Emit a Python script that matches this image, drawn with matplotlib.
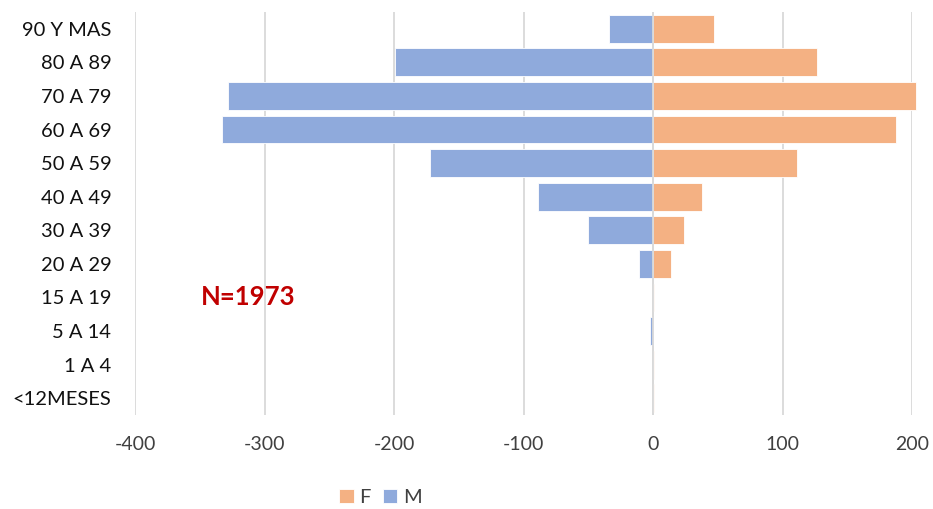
import numpy as np
import matplotlib.pyplot as plt

plt.rcParams['font.family'] = ['Lato', 'DejaVu Sans']

# Age groups, bottom to top
groups = ["<12MESES", "1 A 4", "5 A 14", "15 A 19", "20 A 29", "30 A 39",
          "40 A 49", "50 A 59", "60 A 69", "70 A 79", "80 A 89", "90 Y MAS"]
# Women (positive) and men (negative)
fem = [1, 1, 0, 1, 14, 24, 38, 111, 188, 203, 127, 47]
masc = [0, 0, -2, 0, -11, -50, -89, -172, -333, -328, -199, -34]

col_f = "#F4B183"
col_m = "#8FAADC"

fig = plt.figure(figsize=(9.33, 5.09), dpi=100)
ax = fig.add_axes([0.1447, 0.1847, 0.8328, 0.7917])

y = np.arange(len(groups))
ax.barh(y, fem, height=0.83, color=col_f, edgecolor="white", linewidth=0.6,
        label="F", zorder=3, clip_on=False)
ax.barh(y, masc, height=0.83, color=col_m, edgecolor="white", linewidth=0.6,
        label="M", zorder=3, clip_on=False)

ax.set_xlim(-400, 200)
ax.set_ylim(-0.5, len(groups) - 0.5)
ax.set_xticks(np.arange(-400, 201, 100))
ax.set_xticklabels([str(v) for v in range(-400, 201, 100)], fontsize=14, color="#404040")
ax.set_yticks(y)
ax.set_yticklabels(groups, fontsize=14.5, color="#111111")
ax.tick_params(axis="y", length=0, pad=17)
ax.tick_params(axis="x", length=0, pad=15)

ax.grid(axis="x", color="#D9D9D9", linewidth=1.3, zorder=0)
ax.axvline(0, color="#D9D9D9", linewidth=1.3, zorder=4)
for s in ax.spines.values():
    s.set_visible(False)

ax.text(-349, 3, "N=1973", color="#C00000", fontsize=18.5, fontweight="bold",
        va="center", ha="left")

leg = fig.legend(loc="center", bbox_to_anchor=(0.408, 0.022), ncol=2, frameon=False,
                 fontsize=14.5, handlelength=0.7, handleheight=0.7, handletextpad=0.3,
                 columnspacing=0.6, labelcolor="#404040")

fig.savefig("out.png", dpi=100)
